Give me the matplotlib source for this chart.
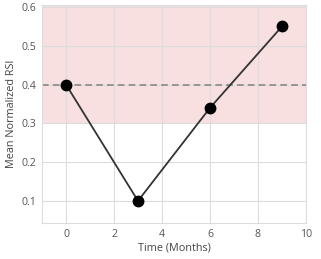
import matplotlib
matplotlib.use("Agg")
import matplotlib.pyplot as plt

months = [0, 3, 6, 9]
rsi = [0.40, 0.10, 0.34, 0.55]
threshold = 0.4
band = (0.3, 0.6)

plt.rcParams["font.family"] = ["Open Sans", "DejaVu Sans"]
fig, ax = plt.subplots(figsize=(3.21, 2.59), dpi=100)
ax.axhspan(band[0], band[1] + 0.01, color="#f4cccc", alpha=0.6, lw=0, zorder=0)
ax.axhline(threshold, color="#888888", ls=(0, (4, 2.5)), lw=1.2, zorder=1)
ax.plot(months, rsi, color="#333333", lw=1.3, marker="o", ms=7.5,
        mfc="black", mec="black", zorder=3)

ax.set_xlim(-1, 10)
ax.set_ylim(0.043, 0.605)
ax.set_xticks([0, 2, 4, 6, 8, 10])
ax.set_yticks([0.1, 0.2, 0.3, 0.4, 0.5, 0.6])
ax.grid(True, color="#dcdcdc", lw=0.8, zorder=0)
ax.set_axisbelow(True)
for s in ax.spines.values():
    s.set_color("#dddddd")
ax.tick_params(length=0, labelsize=7.6, colors="#555555", pad=4)
ax.set_xlabel("Time (Months)", fontsize=7.8, color="#444444", labelpad=2)
ax.set_ylabel("Mean Normalized RSI", fontsize=7.8, color="#444444", labelpad=3)
fig.subplots_adjust(left=0.131, right=0.953, top=0.98, bottom=0.139)
fig.savefig("out.png", dpi=100)
